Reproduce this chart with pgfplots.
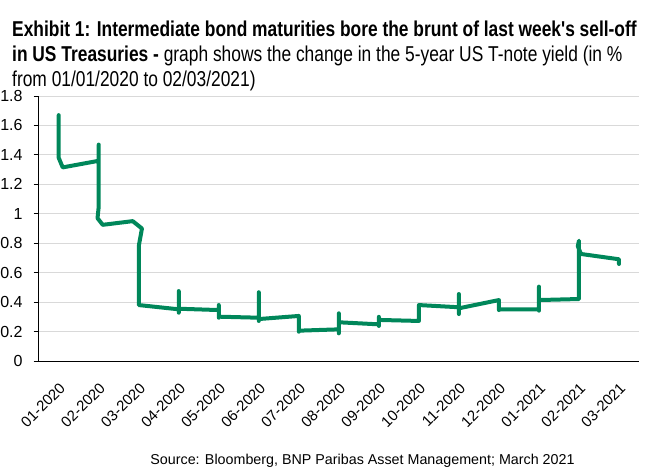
\documentclass[border=0pt]{standalone}
\usepackage{pgfplots}
\pgfplotsset{compat=1.18}
\usepackage{fontspec}
\setmainfont{Liberation Sans}
\newfontfamily\narrowfont{Liberation Sans}[FakeStretch=0.808]
\definecolor{bnpgreen}{RGB}{0,135,90}
\definecolor{gridgray}{RGB}{217,217,217}
\begin{document}
\begin{tikzpicture}[x=1pt,y=1pt]
\useasboundingbox (0,0) rectangle (647,474);
\node[anchor=north west, align=left, inner sep=0pt, font=\narrowfont\fontsize{21.5}{24.8}\selectfont] at (12,453)
{\textbf{Exhibit 1: Intermediate bond maturities bore the brunt of last week's sell-off}\\
\textbf{in US Treasuries -} graph shows the change in the 5-year US T-note yield (in \%\\
from 01/01/2020 to 02/03/2021)};
\begin{axis}[
  at={(38.7pt,113pt)}, anchor=south west,
  width=600.3pt, height=265pt, scale only axis,
  xmin=-0.5, xmax=14.5, ymin=0, ymax=1.8,
  axis x line=bottom, axis y line=left,
  axis line style={-, black, line width=0.8pt},
  xtick={0,...,14},
  xticklabels={01-2020,02-2020,03-2020,04-2020,05-2020,06-2020,07-2020,08-2020,09-2020,10-2020,11-2020,12-2020,01-2021,02-2021,03-2021},
  x tick style={draw=none},
  minor xtick={-0.5,0.5,...,14.5},
  minor x tick style={black, line width=0.8pt},
  minor tick length=5pt,
  ytick={0,0.2,0.4,0.6,0.8,1,1.2,1.4,1.6,1.8},
  yticklabels={0,0.2,0.4,0.6,0.8,1,1.2,1.4,1.6,1.8},
  y tick style={black, line width=0.8pt},
  major tick length=5pt,
  tick align=outside,
  ymajorgrids,
  grid style={gridgray, line width=0.9pt},
  xticklabel style={rotate=45, anchor=north east, font=\fontsize{15}{15}\selectfont, inner sep=1pt, xshift=-10pt, yshift=-10pt},
  yticklabel style={font=\fontsize{16}{16}\selectfont, inner sep=0pt, xshift=-11pt},
  clip=false,
]
\addplot[bnpgreen, line width=4pt, line join=round, line cap=round] coordinates {
(0,1.67) (0,1.38) (0.1,1.315) (1,1.36)
(1,1.47) (1,1.05) (0.97,0.97) (1.1,0.925) (1.85,0.95) (2.08,0.9) (2,0.78) (2,0.38)
(3,0.351) (3,0.475) (3,0.328) (3,0.355)
(4,0.346) (4,0.38) (4,0.294) (4,0.301)
(5,0.294) (5,0.467) (5,0.272) (5,0.285)
(6,0.306) (6,0.199) (6,0.206)
(7,0.215) (7,0.324) (7,0.188) (7,0.263)
(8,0.249) (8,0.30) (8,0.238) (8,0.279)
(9,0.272) (9,0.38)
(10,0.365) (10,0.455) (10,0.319) (10,0.358)
(11,0.414) (11,0.346) (11,0.351)
(12,0.351) (12,0.505) (12,0.342) (12,0.414)
(13,0.421) (13,0.817) (12.97,0.78) (13.05,0.727)
(14,0.691) (14,0.659)
};
\end{axis}
\node[anchor=base, font=\fontsize{14.3}{14.3}\selectfont] at (362.5,10) {Source: Bloomberg, BNP Paribas Asset Management; March 2021};
\end{tikzpicture}
\end{document}
